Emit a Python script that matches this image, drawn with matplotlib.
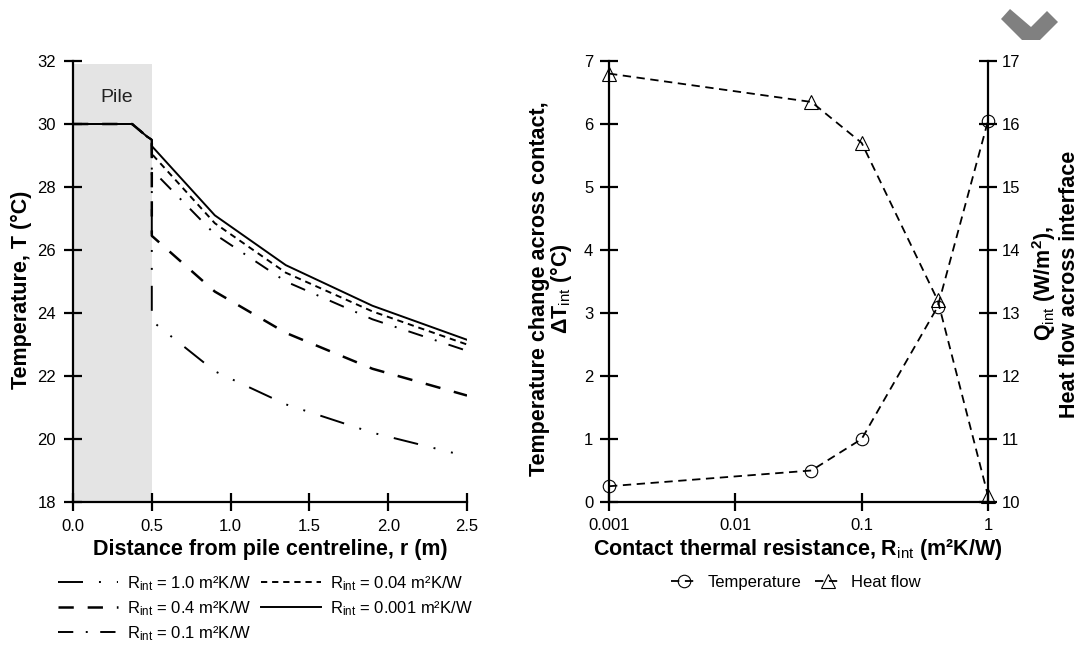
import matplotlib
matplotlib.use("Agg")
import matplotlib.pyplot as plt
from matplotlib.patches import Polygon

plt.rcParams['font.family'] = ['Liberation Sans', 'DejaVu Sans']
plt.rcParams['mathtext.fontset'] = 'custom'
plt.rcParams['mathtext.rm'] = 'Liberation Sans'
plt.rcParams['mathtext.it'] = 'Liberation Sans:italic'
plt.rcParams['mathtext.bf'] = 'Liberation Sans:bold'
plt.rcParams['lines.scale_dashes'] = False

# ---------------- data: left panel ----------------
r_nodes = [0.0, 0.375, 0.47, 0.5, 0.5, 0.9, 1.35, 1.9, 2.5]
T_R1000 = [30.0, 30.0, 29.6, 29.5, 23.75, 22.15, 21.10, 20.20, 19.45]
T_R0400 = [30.0, 30.0, 29.6, 29.5, 26.45, 24.68, 23.37, 22.23, 21.38]
T_R0100 = [30.0, 30.0, 29.6, 29.5, 28.55, 26.50, 25.00, 23.80, 22.80]
T_R0040 = [30.0, 30.0, 29.6, 29.5, 29.05, 26.85, 25.28, 24.05, 23.00]
T_R0001 = [30.0, 30.0, 29.6, 29.5, 29.30, 27.10, 25.52, 24.23, 23.15]
labels_left = ["R$_{\\rm int}$ = 1.0 m²K/W", "R$_{\\rm int}$ = 0.4 m²K/W",
               "R$_{\\rm int}$ = 0.1 m²K/W", "R$_{\\rm int}$ = 0.04 m²K/W",
               "R$_{\\rm int}$ = 0.001 m²K/W"]
pile_r = [0.0, 0.5]
pile_top = 31.92

# ---------------- data: right panel ----------------
R_int = [0.001, 0.04, 0.1, 0.4, 1.0]
dT_int = [0.25, 0.5, 1.0, 3.1, 6.05]
Q_int = [16.8, 16.35, 15.7, 13.2, 10.1]
xticks_right = [0.001, 0.01, 0.1, 1]
xticklabels_right = ["0.001", "0.01", "0.1", "1"]

W, H = 1080, 648
fig = plt.figure(figsize=(10.8, 6.48), dpi=100)

def fx(px):
    return px / W

def fy(py):
    return 1 - py / H

ax1 = fig.add_axes([fx(73), fy(502), fx(467 - 73), (502 - 61) / H])
ax2 = fig.add_axes([fx(609), fy(502), fx(988 - 609), (502 - 61) / H])

lw_sp = 1.6
tick_kw = dict(direction='inout', length=12.5, width=lw_sp, labelsize=12, colors='black')

# ---- left panel
ax1.axvspan(pile_r[0], pile_r[1], ymin=0, ymax=(pile_top - 18) / 14, color='#e4e4e4', lw=0, zorder=0)
ax1.text(0.28, 30.85, "Pile", fontsize=14, ha='center', va='center', color='#222222')

styles = [
    dict(dashes=[18, 11.5, 1.4, 11.5, 1.4, 11.5], lw=1.4),
    dict(dashes=[11, 10], lw=1.8),
    dict(dashes=[11, 9, 1.4, 9], lw=1.4),
    dict(dashes=[4.5, 3.5], lw=1.4),
    dict(linestyle='-', lw=1.4),
]
series = [T_R1000, T_R0400, T_R0100, T_R0040, T_R0001]
for T, st, lab in zip(series, styles, labels_left):
    ax1.plot(r_nodes, T, color='black', label=lab, **st)

ax1.set_xlim(0, 2.5)
ax1.set_ylim(18, 32)
ax1.set_xticks([0.0, 0.5, 1.0, 1.5, 2.0, 2.5])
ax1.set_xticklabels(["0.0", "0.5", "1.0", "1.5", "2.0", "2.5"])
ax1.set_yticks(range(18, 33, 2))
ax1.tick_params(axis='both', pad=6, **tick_kw)
for s in ['top', 'right']:
    ax1.spines[s].set_visible(False)
for s in ['left', 'bottom']:
    ax1.spines[s].set_linewidth(lw_sp)

fig.text(fx(270), fy(550), "Distance from pile centreline, r (m)", fontsize=15.5,
         fontweight='bold', ha='center', va='center')
fig.text(fx(21), fy(290), "Temperature, T (°C)", fontsize=15.5, fontweight='bold',
         rotation=90, ha='center', va='center')

leg1 = ax1.legend(loc='upper left', bbox_to_anchor=(fx(58), fy(574)),
                  bbox_transform=fig.transFigure, ncol=2, frameon=False,
                  fontsize=12, handlelength=3.6, handletextpad=0.55,
                  columnspacing=0.55, labelspacing=0.38, borderpad=0, borderaxespad=0)

# ---- right panel
ax2.plot(R_int, dT_int, color='black', dashes=[6, 4], lw=1.3, marker='o', ms=9,
         mfc='none', mec='black', mew=0.8, label='Temperature', clip_on=False, zorder=5)
ax2r = ax2.twinx()
ax2r.set_position(ax2.get_position())
ax2r.plot(R_int, Q_int, color='black', dashes=[6, 4], lw=1.3, marker='^', ms=10,
          mfc='none', mec='black', mew=0.8, label='Heat flow', clip_on=False, zorder=5)

ax2.set_xscale('log')
ax2.set_xlim(0.001, 1)
ax2.set_xticks(xticks_right)
ax2.set_xticklabels(xticklabels_right)
ax2.minorticks_off()
ax2.set_ylim(0, 7)
ax2.set_yticks(range(0, 8))
ax2r.set_ylim(10, 17)
ax2r.set_yticks(range(10, 18))
ax2.tick_params(axis='both', pad=5, **tick_kw)
ax2r.tick_params(axis='y', pad=4, **tick_kw)
for a in (ax2, ax2r):
    a.spines['top'].set_visible(False)
    for s in ['left', 'bottom', 'right']:
        a.spines[s].set_linewidth(lw_sp)
ax2.spines['right'].set_visible(False)
ax2r.spines['left'].set_visible(False)
ax2r.spines['bottom'].set_visible(False)

fig.text(fx(798), fy(550), "Contact thermal resistance, R$_{\\rm int}$ (m²K/W)", fontsize=15.5,
         fontweight='bold', ha='center', va='center')
# left y-label of right panel (two lines)
fig.text(fx(539), fy(289), "Temperature change across contact,",
         fontsize=15.5, fontweight='bold', rotation=90, ha='center', va='center')
fig.text(fx(561), fy(289), "ΔT$_{\\rm int}$ (°C)",
         fontsize=15.5, fontweight='bold', rotation=90, ha='center', va='center')
# right y-label of right panel (two lines)
fig.text(fx(1058), fy(284), "Q$_{\\rm int}$ (W/m$^{\\mathbf{2}}$),",
         fontsize=15.5, fontweight='bold', rotation=90, ha='right', va='center')
fig.text(fx(1059), fy(284), "Heat flow across interface",
         fontsize=15.5, fontweight='bold', rotation=90, ha='left', va='center')

h1, l1 = ax2.get_legend_handles_labels()
h2, l2 = ax2r.get_legend_handles_labels()
fig.legend(h1 + h2, l1 + l2, loc='upper center', bbox_to_anchor=(fx(796), fy(575)),
           ncol=2, frameon=False, fontsize=12, handlelength=1.6, handletextpad=0.6,
           columnspacing=0.8, borderpad=0, borderaxespad=0, numpoints=1)

# gray chevron in top-right corner
chev = [(1001, 19), (1010, 9), (1031, 27), (1047, 11), (1058, 22), (1040, 40), (1022, 40)]
fig.add_artist(Polygon([(fx(x), fy(y)) for x, y in chev], closed=True,
                       transform=fig.transFigure, facecolor='#808080', edgecolor='none'))

fig.savefig("out.png", dpi=100)
